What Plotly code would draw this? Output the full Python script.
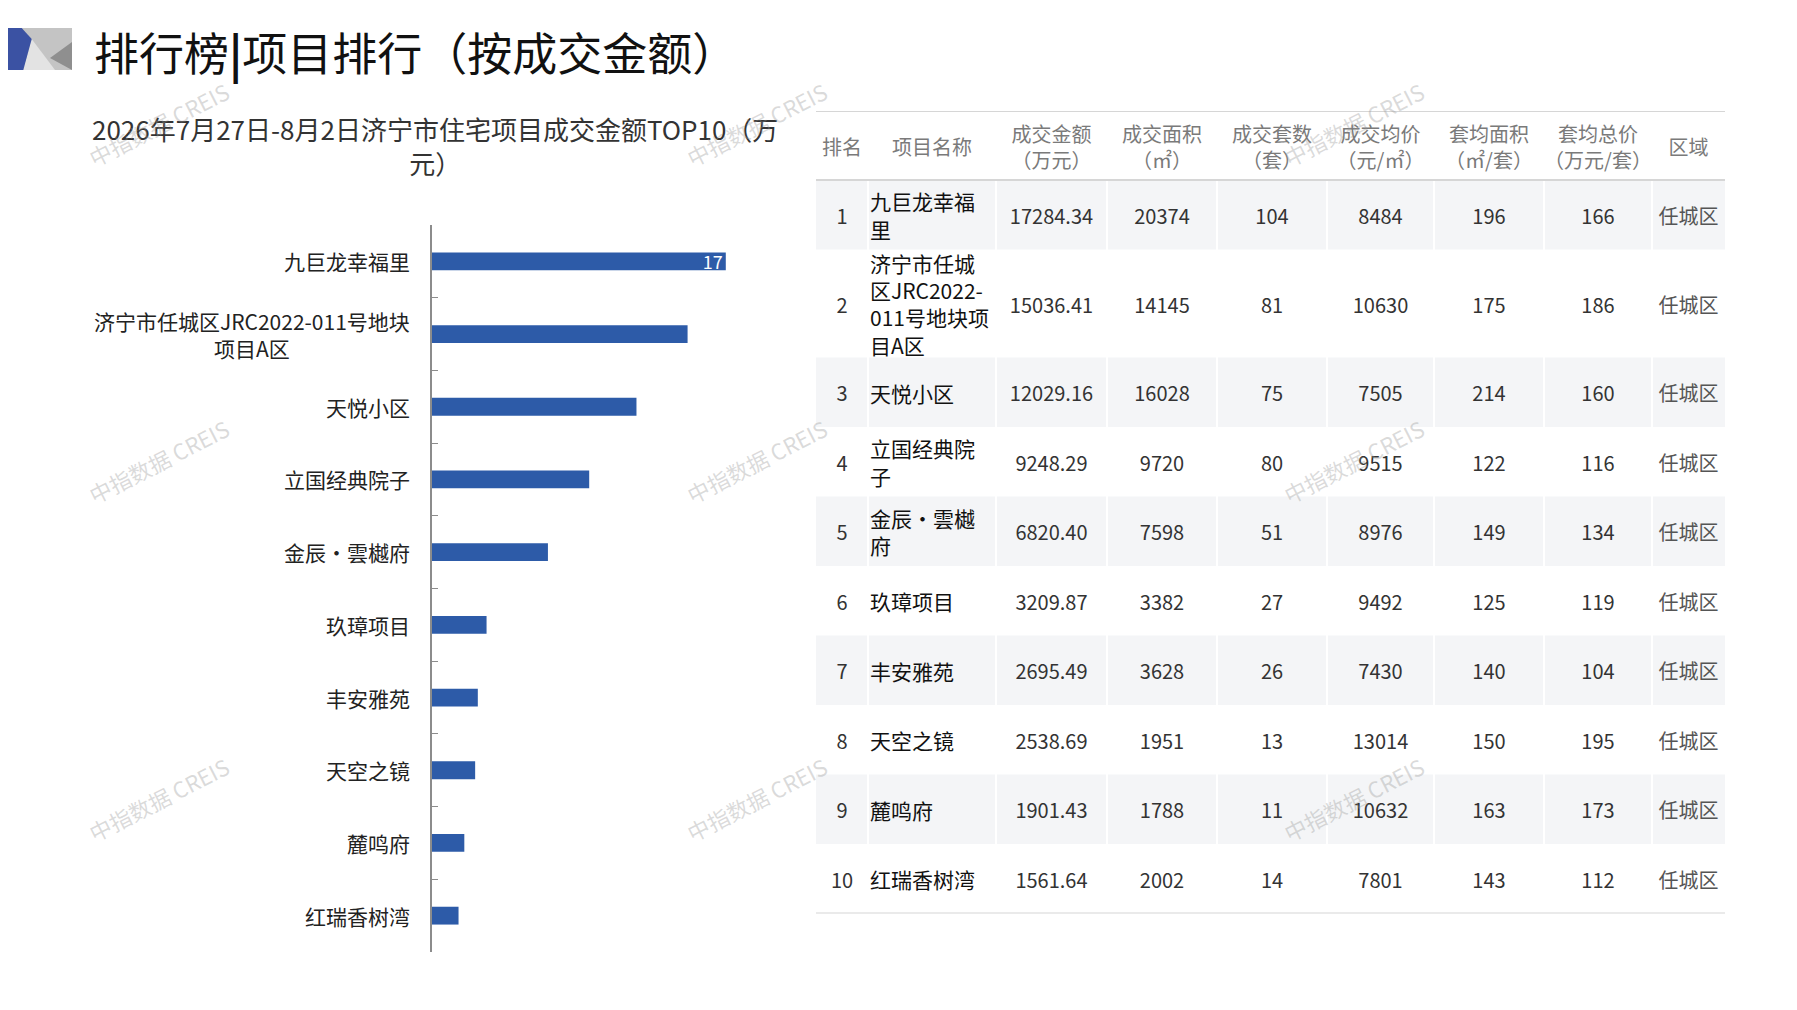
import plotly.graph_objects as go

# ──────────────────────────────────────────────
#  济宁市住宅项目成交金额 TOP10 + 排行表
# ──────────────────────────────────────────────

W, H = 1797, 1010
OFF = 8  # page body margin of the exported html
FONT = "Noto Sans CJK SC"

# ── data ──
projects = ["九巨龙幸福里", "济宁市任城区JRC2022-011号地块项目A区", "天悦小区", "立国经典院子",
            "金辰・雲樾府", "玖璋项目", "丰安雅苑", "天空之镜", "麓鸣府", "红瑞香树湾"]
deal_amount = [17284.34, 15036.41, 12029.16, 9248.29, 6820.40, 3209.87, 2695.49, 2538.69, 1901.43, 1561.64]
deal_area = [20374, 14145, 16028, 9720, 7598, 3382, 3628, 1951, 1788, 2002]
deal_units = [104, 81, 75, 80, 51, 27, 26, 13, 11, 14]
avg_price = [8484, 10630, 7505, 9515, 8976, 9492, 7430, 13014, 10632, 7801]
avg_unit_area = [196, 175, 214, 122, 149, 125, 140, 150, 163, 143]
avg_unit_total = [166, 186, 160, 116, 134, 119, 104, 195, 173, 112]
districts = ["任城区"] * 10
bar_labels = ["17"] + [""] * 9

table_headers = ["排名", "项目名称", "成交金额<br>（万元）", "成交面积<br>（㎡）", "成交套数<br>（套）",
                 "成交均价<br>（元/㎡）", "套均面积<br>（㎡/套）", "套均总价<br>（万元/套）", "区域"]

page_title = "排行榜<b>|</b>项目排行（按成交金额）"
chart_title = "2026年7月27日-8月2日济宁市住宅项目成交金额TOP10（万<br>元）"
watermark = "中指数据 CREIS"


def px_x(x):
    return (x - OFF) / W


def px_y(y):
    return 1 - (y - OFF) / H


def wrap(text, max_em):
    """Greedy wrap: CJK = 1em, ascii = 0.55em."""
    lines, cur, w = [], "", 0.0
    for ch in text:
        cw = 0.55 if ord(ch) < 128 else 1.0
        if cur and w + cw > max_em:
            lines.append(cur)
            cur, w = "", 0.0
        cur += ch
        w += cw
    lines.append(cur)
    return "<br>".join(lines)


fig = go.Figure()

# ──────────────────────────────────────────────
#  Bar chart (left)
# ──────────────────────────────────────────────
fig.add_trace(go.Bar(
    x=deal_amount, y=projects, orientation="h", width=0.245,
    marker=dict(color="#2d5ba8", line=dict(width=0)),
    text=bar_labels, textposition="inside", insidetextanchor="end", textangle=0,
    textfont=dict(color="white", size=18, family=FONT),
    constraintext="none", cliponaxis=False, hoverinfo="skip",
))

for i, name in enumerate(projects):
    fig.add_annotation(
        x=px_x(412), xref="paper", xanchor="right", y=i, yref="y", yanchor="middle",
        text=wrap(name, 15.1), align="center", showarrow=False,
        font=dict(size=21, color="#222222", family=FONT),
    )

# ──────────────────────────────────────────────
#  Table (right) — drawn on its own axes, px units
# ──────────────────────────────────────────────
col_widths = [52, 128, 111, 110, 110, 107, 110, 108, 73]
header_h = 69
name_lines = [wrap(n, 5.7) for n in projects]
row_heights = [max(69.5, 27 * n.count("<br>") + 27) for n in name_lines]
TEXT_DROP = 4  # svg text sits a little high; nudge to the optical centre

col_edges = [0]
for w in col_widths:
    col_edges.append(col_edges[-1] + w)
total_w = col_edges[-1]
row_edges = [header_h]
for h in row_heights:
    row_edges.append(row_edges[-1] + h)
total_h = row_edges[-1]
col_mid = [(a + b) / 2 for a, b in zip(col_edges[:-1], col_edges[1:])]
row_mid = [(a + b) / 2 + TEXT_DROP for a, b in zip(row_edges[:-1], row_edges[1:])]

TABLE_TOP, TABLE_LEFT = 111, 816

shapes = []
for i in range(0, len(projects), 2):
    shapes.append(dict(type="rect", xref="x2", yref="y2", x0=0, x1=total_w,
                       y0=row_edges[i], y1=row_edges[i + 1],
                       fillcolor="#f4f5f7", line=dict(width=0), layer="below"))
for xe in col_edges[1:-1]:
    shapes.append(dict(type="line", xref="x2", yref="y2", x0=xe, x1=xe,
                       y0=header_h, y1=total_h, line=dict(color="white", width=2), layer="below"))
for ye in (0, header_h, total_h):
    shapes.append(dict(type="line", xref="x2", yref="y2", x0=0, x1=total_w,
                       y0=ye, y1=ye, line=dict(color="#d6d6d6", width=2), layer="below"))

# header
fig.add_trace(go.Scatter(
    x=col_mid, y=[header_h / 2 + TEXT_DROP] * len(col_mid), text=table_headers, mode="text",
    textposition="middle center", textfont=dict(size=20, color="#7a7a7a", family=FONT),
    xaxis="x2", yaxis="y2", hoverinfo="skip",
))

body_cols = [
    [str(i + 1) for i in range(len(projects))],
    name_lines,
    [f"{v:.2f}" for v in deal_amount],
    [str(v) for v in deal_area],
    [str(v) for v in deal_units],
    [str(v) for v in avg_price],
    [str(v) for v in avg_unit_area],
    [str(v) for v in avg_unit_total],
    districts,
]
for j, vals in enumerate(body_cols):
    size = 20
    if j == 1:
        xs, pos, color, size = [col_edges[1] + 2] * len(vals), "middle right", "#111111", 21
    else:
        xs, pos, color = [col_mid[j]] * len(vals), "middle center", "#333333"
    if j == 8:
        color = "#555555"
    fig.add_trace(go.Scatter(
        x=xs, y=row_mid, text=vals, mode="text", textposition=pos,
        textfont=dict(size=size, color=color, family=FONT),
        xaxis="x2", yaxis="y2", hoverinfo="skip",
    ))

# ──────────────────────────────────────────────
#  Logo + titles + watermarks
# ──────────────────────────────────────────────
def poly(points, color):
    path = "M " + " L ".join(f"{px_x(x)},{px_y(y)}" for x, y in points) + " Z"
    return dict(type="path", xref="paper", yref="paper", path=path,
                fillcolor=color, line=dict(width=0), layer="above")


shapes += [
    poly([(OFF, 28), (72, 28), (72, 70), (OFF, 70)], "#c4c4c4"),
    poly([(31.7, 39), (55, 70), (23, 70)], "#e3e3e3"),
    poly([(50, 58), (72, 42), (72, 70)], "#8f8f8f"),
    poly([(OFF, 28), (21.7, 28), (31.7, 39), (23.3, 70), (OFF, 70)], "#3b52a3"),
]

fig.add_annotation(x=px_x(92), y=px_y(51), xref="paper", yref="paper", xanchor="left",
                   yanchor="middle", text=page_title, showarrow=False,
                   font=dict(size=45, color="#111111", family=FONT))
fig.add_annotation(x=px_x(435), y=px_y(145), xref="paper", yref="paper", xanchor="center",
                   yanchor="middle", text=chart_title, showarrow=False, align="center",
                   font=dict(size=26, color="#333333", family=FONT))

for wx in (158, 756, 1353):
    for wy in (124, 461, 799):
        fig.add_annotation(x=px_x(wx), y=px_y(wy), xref="paper", yref="paper",
                           xanchor="center", yanchor="middle",
                           text=watermark, showarrow=False, textangle=-27,
                           font=dict(size=22, color="rgba(150,150,150,0.35)", family=FONT))

fig.update_layout(
    width=W, height=H, margin=dict(l=0, r=0, t=0, b=0),
    paper_bgcolor="white", plot_bgcolor="white", showlegend=False,
    shapes=shapes,
    xaxis=dict(domain=[px_x(432), px_x(800)], range=[0, 21650], visible=False, fixedrange=True),
    yaxis=dict(domain=[px_y(952), px_y(225)], type="category", categoryorder="array",
               categoryarray=projects, range=[9.5, -0.5], showticklabels=False,
               showline=True, linecolor="#8c8c8c", linewidth=2, showgrid=False,
               ticks="inside", tickson="boundaries", ticklen=6, tickcolor="#8c8c8c",
               fixedrange=True),
    xaxis2=dict(domain=[px_x(TABLE_LEFT), px_x(TABLE_LEFT + total_w)], range=[0, total_w],
                visible=False, anchor="y2", fixedrange=True),
    yaxis2=dict(domain=[px_y(TABLE_TOP + total_h), px_y(TABLE_TOP)], range=[total_h, 0],
                visible=False, anchor="x2", fixedrange=True),
)

fig.write_html("out.html")
